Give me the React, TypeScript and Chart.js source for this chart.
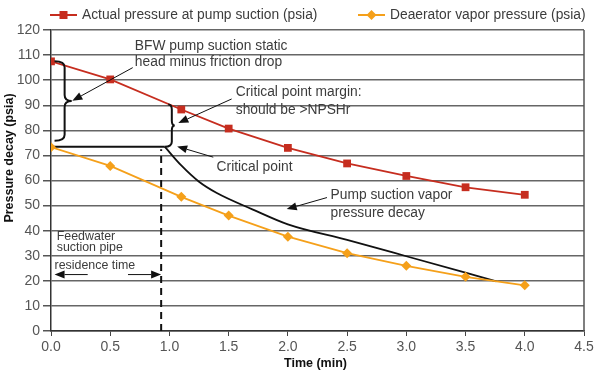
import React, { useEffect, useRef } from "react";
import { Chart, registerables } from "chart.js";

Chart.register(...registerables);

// ---- data ----
const timeMin = [0, 0.5, 1.1, 1.5, 2.0, 2.5, 3.0, 3.5, 4.0];
const actualPressure = [107.5, 100.3, 88.3, 80.7, 73.0, 66.8, 61.8, 57.3, 54.3];
const deaeratorPressure = [73.3, 65.8, 53.5, 46.0, 37.6, 31.0, 26.0, 21.6, 18.2];
const criticalLevelTime = [0, 0.96];
const criticalLevelPressure = [73.5, 73.5];
const vaporDecayTime = [0.96, 1.1, 1.25, 1.4, 1.7, 2.0, 2.5, 3.0, 3.76];
const vaporDecayPressure = [73.5, 66.0, 59.5, 55.0, 48.5, 42.5, 36.3, 29.8, 19.8];
const residenceLineTime = [0.93, 0.93];
const residenceLinePressure = [0, 72.5];
const legendLabels = ["Actual pressure at pump suction (psia)", "Deaerator vapor pressure (psia)"];
const xTitle = "Time (min)";
const yTitle = "Pressure decay (psia)";

const RED = "#c62d1f";
const ORANGE = "#f5a01a";
const INK = "#3c3c3c";
const FONT = "'Liberation Sans', Arial, sans-serif";

const pts = (xs: number[], ys: number[]) => xs.map((x, i) => ({ x, y: ys[i] }));

function arrow(ctx: CanvasRenderingContext2D, x1: number, y1: number, x2: number, y2: number, head = 10, half = 4) {
  const a = Math.atan2(y2 - y1, x2 - x1);
  const bx = x2 - head * Math.cos(a);
  const by = y2 - head * Math.sin(a);
  ctx.beginPath();
  ctx.moveTo(x1, y1);
  ctx.lineTo(bx, by);
  ctx.stroke();
  ctx.beginPath();
  ctx.moveTo(x2, y2);
  ctx.lineTo(bx + half * Math.sin(a), by - half * Math.cos(a));
  ctx.lineTo(bx - half * Math.sin(a), by + half * Math.cos(a));
  ctx.closePath();
  ctx.fill();
}

function brace(ctx: CanvasRenderingContext2D, x0Top: number, x0Bot: number, x: number, yTop: number, yBot: number, tipX: number, r: number) {
  const yMid = (yTop + yBot) / 2;
  ctx.beginPath();
  ctx.moveTo(x0Top, yTop);
  ctx.quadraticCurveTo(x, yTop, x, yTop + r);
  ctx.lineTo(x, yMid - r);
  ctx.quadraticCurveTo(x, yMid, tipX, yMid);
  ctx.quadraticCurveTo(x, yMid, x, yMid + r);
  ctx.lineTo(x, yBot - r);
  ctx.quadraticCurveTo(x, yBot, x0Bot, yBot);
  ctx.stroke();
}

const annotationPlugin = {
  id: "annotations",
  afterDatasetsDraw(chart: any) {
    const ctx: CanvasRenderingContext2D = chart.ctx;
    const xs = chart.scales.x;
    const ys = chart.scales.y;
    const px = (v: number) => xs.getPixelForValue(v);
    const py = (v: number) => ys.getPixelForValue(v);
    const area = chart.chartArea;
    ctx.save();
    // right border
    ctx.strokeStyle = "#555";
    ctx.lineWidth = 1.5;
    ctx.beginPath();
    ctx.moveTo(area.right, area.top);
    ctx.lineTo(area.right, area.bottom);
    ctx.stroke();

    // braces
    ctx.strokeStyle = "#111";
    ctx.lineWidth = 2;
    brace(ctx, px(0.03), px(0.03), px(0.115), py(107.5), py(75.8), px(0.175), 6);
    brace(ctx, px(0.99), px(0.96), px(1.02), py(90.3), py(73.5), px(1.045), 5);

    // arrows
    ctx.fillStyle = "#111";
    ctx.lineWidth = 1;
    arrow(ctx, px(0.69), py(105.0), px(0.18), py(91.8));
    arrow(ctx, px(1.525), py(92.5), px(1.075), py(82.9));
    arrow(ctx, px(1.37), py(69.3), px(1.065), py(73.6));
    arrow(ctx, px(2.33), py(53.2), px(1.99), py(48.6));
    arrow(ctx, px(0.31), py(22.5), px(0.03), py(22.5));
    arrow(ctx, px(0.65), py(22.5), px(0.93), py(22.5));

    // texts
    ctx.fillStyle = INK;
    ctx.font = `13.8px ${FONT}`;
    ctx.textBaseline = "middle";
    ctx.textAlign = "left";
    const t = (s: string, x: number, y: number) => ctx.fillText(s, px(x), py(y));
    t("BFW pump suction static", 0.708, 113.4);
    t("head minus friction drop", 0.708, 107.0);
    t("Critical point margin:", 1.56, 95.1);
    t("should be >NPSHr", 1.56, 88.2);
    t("Critical point", 1.398, 65.5);
    t("Pump suction vapor", 2.36, 54.2);
    t("pressure decay", 2.36, 47.1);
    ctx.font = `12.4px ${FONT}`;
    t("Feedwater", 0.048, 37.5);
    t("suction pipe", 0.048, 33.1);
    t("residence time", 0.03, 26.0);

    // axis titles
    ctx.fillStyle = "#111";
    ctx.font = `bold 12.5px ${FONT}`;
    ctx.textAlign = "center";
    ctx.fillText(xTitle, (area.left + area.right) / 2 - 2, 364);
    ctx.translate(10, 158);
    ctx.rotate(-Math.PI / 2);
    ctx.fillText(yTitle, 0, 0);
    ctx.restore();
  },
  afterDraw(chart: any) {
    const ctx: CanvasRenderingContext2D = chart.ctx;
    ctx.save();
    const y = 15;
    const items = [
      { x: 50, color: RED, style: "rect", label: legendLabels[0] },
      { x: 358, color: ORANGE, style: "rectRot", label: legendLabels[1] },
    ];
    ctx.font = `13.8px ${FONT}`;
    ctx.textBaseline = "middle";
    ctx.textAlign = "left";
    for (const it of items) {
      ctx.strokeStyle = it.color;
      ctx.fillStyle = it.color;
      ctx.lineWidth = 2;
      ctx.beginPath();
      ctx.moveTo(it.x, y);
      ctx.lineTo(it.x + 27, y);
      ctx.stroke();
      const cx = it.x + 13.5;
      ctx.beginPath();
      if (it.style === "rect") {
        ctx.rect(cx - 4, y - 4, 8, 8);
      } else {
        ctx.moveTo(cx, y - 5);
        ctx.lineTo(cx + 5, y);
        ctx.lineTo(cx, y + 5);
        ctx.lineTo(cx - 5, y);
        ctx.closePath();
      }
      ctx.fill();
      ctx.fillStyle = INK;
      ctx.fillText(it.label, it.x + 32, y);
    }
    ctx.restore();
  },
};

export default function App() {
  const ref = useRef<HTMLCanvasElement | null>(null);
  useEffect(() => {
    if (!ref.current) return;
    const chart = new Chart(ref.current, {
      type: "line",
      data: {
        datasets: [
          {
            label: legendLabels[0],
            data: pts(timeMin, actualPressure),
            borderColor: RED,
            backgroundColor: RED,
            borderWidth: 1.8,
            pointStyle: "rect",
            pointRadius: 5.5,
            pointBorderWidth: 0,
            tension: 0,
          },
          {
            label: legendLabels[1],
            data: pts(timeMin, deaeratorPressure),
            borderColor: ORANGE,
            backgroundColor: ORANGE,
            borderWidth: 1.8,
            pointStyle: "rectRot",
            pointRadius: 5,
            pointBorderWidth: 0,
            tension: 0,
          },
          {
            label: "critical level",
            data: pts(criticalLevelTime, criticalLevelPressure),
            borderColor: "#111",
            borderWidth: 2,
            pointRadius: 0,
          },
          {
            label: "vapor decay",
            data: pts(vaporDecayTime, vaporDecayPressure),
            borderColor: "#111",
            borderWidth: 1.8,
            pointRadius: 0,
            cubicInterpolationMode: "monotone",
          },
          {
            label: "residence",
            data: pts(residenceLineTime, residenceLinePressure),
            borderColor: "#111",
            borderWidth: 2,
            borderDash: [7, 5],
            pointRadius: 0,
          },
        ],
      },
      options: {
        animation: false,
        responsive: false,
        devicePixelRatio: 1,
        layout: { padding: { top: 30, right: 16, left: 0, bottom: 0 } },
        plugins: { legend: { display: false }, tooltip: { enabled: false } },
        scales: {
          x: {
            type: "linear",
            min: 0,
            max: 4.5,
            ticks: {
              stepSize: 0.5,
              color: "#555",
              font: { family: FONT, size: 14 },
              padding: 3,
              callback: (v: any) => Number(v).toFixed(1),
            },
            grid: { drawOnChartArea: false, tickLength: 5, tickColor: "#444", lineWidth: 1 },
            border: { color: "#333", width: 1.5 },
            title: { display: false, text: xTitle },
            afterFit: (s: any) => {
              s.height = 49;
            },
          },
          y: {
            min: 0,
            max: 120,
            ticks: { stepSize: 10, color: "#555", font: { family: FONT, size: 14 }, padding: 3 },
            grid: { color: "#666", lineWidth: 1.5, tickLength: 8, tickColor: "#555" },
            border: { color: "#333", width: 1.5 },
            title: { display: false, text: yTitle },
            afterFit: (s: any) => {
              s.width = 51;
            },
          },
        },
      },
      plugins: [annotationPlugin],
    } as any);
    return () => chart.destroy();
  }, []);
  return (
    <div style={{ position: "absolute", left: 0, top: 0, width: 600, height: 380, background: "#fff" }}>
      <canvas ref={ref} width={600} height={380} />
    </div>
  );
}
